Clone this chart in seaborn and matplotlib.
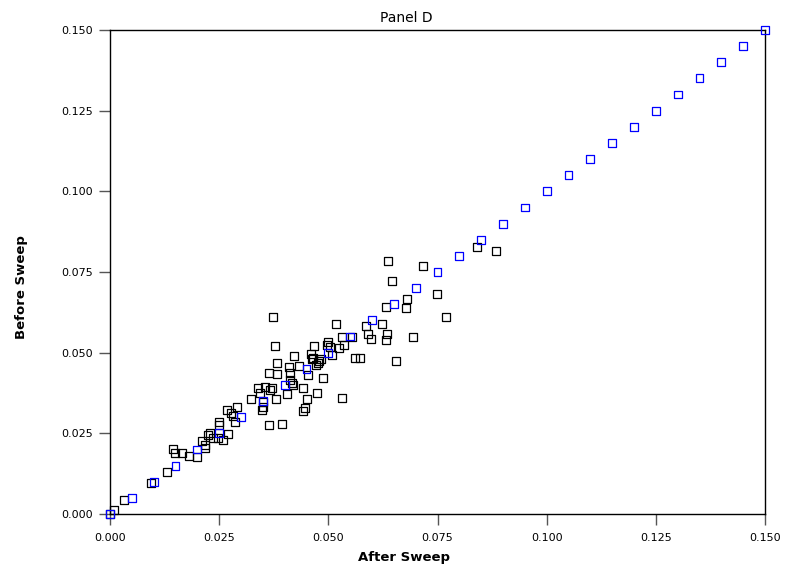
import numpy as np
import pandas as pd
import matplotlib
matplotlib.use("Agg")
import matplotlib.pyplot as plt
import seaborn as sns

# -----------------------------
# Data
# -----------------------------
after_black = [
    0.0000, 0.0009, 0.0032, 0.0094, 0.0131, 0.0144, 0.0149, 0.0165, 0.0181, 0.0199,
    0.0211, 0.0218, 0.0224, 0.0229, 0.0236, 0.0247, 0.0259, 0.0270, 0.0218, 0.0250,
    0.0250, 0.0268, 0.0277, 0.0282, 0.0286, 0.0291, 0.0323, 0.0339, 0.0343, 0.0355,
    0.0371, 0.0350, 0.0348, 0.0380, 0.0364, 0.0394, 0.0364, 0.0382, 0.0373, 0.0378,
    0.0382, 0.0410, 0.0421, 0.0433, 0.0412, 0.0412, 0.0417, 0.0419, 0.0442, 0.0405,
    0.0453, 0.0460, 0.0463, 0.0467, 0.0472, 0.0479, 0.0488, 0.0474, 0.0451, 0.0447,
    0.0442, 0.0497, 0.0518, 0.0499, 0.0531, 0.0554, 0.0504, 0.0524, 0.0536, 0.0465,
    0.0483, 0.0508, 0.0476, 0.0561, 0.0572, 0.0531, 0.0586, 0.0591, 0.0598, 0.0623,
    0.0632, 0.0637, 0.0646, 0.0717, 0.0678, 0.0680, 0.0749, 0.0632, 0.0634, 0.0694,
    0.0655, 0.0769, 0.0840, 0.0884, 0.0366, 0.0350,
]
before_black = [
    0.0000, 0.0012, 0.0043, 0.0096, 0.0130, 0.0201, 0.0189, 0.0189, 0.0180, 0.0177,
    0.0226, 0.0205, 0.0245, 0.0251, 0.0236, 0.0236, 0.0229, 0.0248, 0.0214, 0.0285,
    0.0276, 0.0322, 0.0313, 0.0304, 0.0285, 0.0332, 0.0356, 0.0390, 0.0375, 0.0394,
    0.0390, 0.0332, 0.0322, 0.0356, 0.0276, 0.0279, 0.0437, 0.0434, 0.0610, 0.0521,
    0.0468, 0.0456, 0.0490, 0.0459, 0.0437, 0.0415, 0.0406, 0.0400, 0.0390, 0.0372,
    0.0431, 0.0496, 0.0480, 0.0521, 0.0462, 0.0474, 0.0421, 0.0375, 0.0356, 0.0328,
    0.0319, 0.0524, 0.0589, 0.0533, 0.0548, 0.0548, 0.0518, 0.0514, 0.0524, 0.0483,
    0.0480, 0.0493, 0.0468, 0.0483, 0.0483, 0.0359, 0.0583, 0.0558, 0.0542, 0.0589,
    0.0641, 0.0784, 0.0722, 0.0769, 0.0638, 0.0666, 0.0682, 0.0539, 0.0558, 0.0548,
    0.0474, 0.0610, 0.0827, 0.0815, 0.0384, 0.0347,
]

# blue reference points along the diagonal
diag_vals = [
    0.000, 0.005, 0.010, 0.015, 0.020, 0.025, 0.030, 0.035, 0.040, 0.045,
    0.050, 0.055, 0.060, 0.065, 0.070, 0.075, 0.080, 0.085, 0.090, 0.095,
    0.100, 0.105, 0.110, 0.115, 0.120, 0.125, 0.130, 0.135, 0.140, 0.145,
    0.150,
]

tick_vals = [0.000, 0.025, 0.050, 0.075, 0.100, 0.125, 0.150]
tick_labels = ["0.000", "0.025", "0.050", "0.075", "0.100", "0.125", "0.150"]

black_df = pd.DataFrame({"after": after_black, "before": before_black})
diag_df = pd.DataFrame({"after": diag_vals, "before": diag_vals})

# -----------------------------
# Plot
# -----------------------------
sns.set_style("white")
plt.rcParams["font.family"] = ["DejaVu Sans"]
plt.rcParams["text.color"] = "black"
plt.rcParams["axes.labelcolor"] = "black"

fig = plt.figure(figsize=(7.95, 5.71), dpi=100)
ax = fig.add_axes([0.1384, 0.0998, 0.8239, 0.8477])

sns.scatterplot(
    data=black_df, x="after", y="before",
    marker="s", s=32, facecolor="none", edgecolor="black",
    linewidth=0.9, ax=ax, zorder=3, clip_on=False
)

sns.scatterplot(
    data=diag_df, x="after", y="before",
    marker="s", s=32, facecolor="none", edgecolor="#0000ff",
    linewidth=0.9, ax=ax, zorder=4, clip_on=False
)

ax.set_xlim(0, 0.150)
ax.set_ylim(0, 0.150)
ax.set_xticks(tick_vals)
ax.set_xticklabels(tick_labels)
ax.set_yticks(tick_vals)
ax.set_yticklabels(tick_labels)

for side in ["left", "right", "top", "bottom"]:
    ax.spines[side].set_visible(True)
    ax.spines[side].set_color("black")
    ax.spines[side].set_linewidth(1.0)

ax.tick_params(
    axis="both", direction="out", length=8, width=1.0,
    color="#555555", labelcolor="black", labelsize=8, pad=4,
    left=True, bottom=True, right=False, top=False
)
ax.tick_params(axis="x", pad=6)

ax.set_title("Panel D", fontsize=10, x=0.453, pad=6, color="black")
ax.set_xlabel("After Sweep", fontsize=9.5, fontweight="bold")
ax.set_ylabel("Before Sweep", fontsize=9.5, fontweight="bold")
ax.xaxis.set_label_coords(0.449, -0.076)
ax.yaxis.set_label_coords(-0.125, 0.469)

plt.savefig("out.png", dpi=100)
plt.close()
